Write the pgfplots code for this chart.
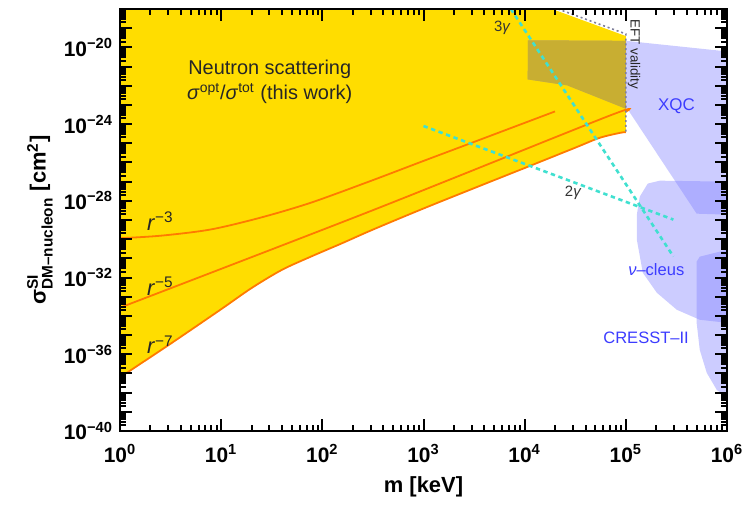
\documentclass[border=0pt]{standalone}
\usepackage{fontspec}
\setmainfont{Liberation Sans}
\usepackage{amsmath}
\usepackage{pgfplots}
\pgfplotsset{compat=1.18}
\usepgfplotslibrary{fillbetween}
\definecolor{nsyellow}{HTML}{FFDD00}
\definecolor{nsolive}{HTML}{C8AE32}
\definecolor{nsorange}{HTML}{FF7A00}
\definecolor{nscyan}{HTML}{40E0D0}
\definecolor{nsblue}{HTML}{8080FF}
\definecolor{nstext}{HTML}{3C3CFF}
\definecolor{nsgray}{HTML}{7F7F9A}
\newcommand{\dec}[1]{10\textsuperscript{#1}}
\pgfplotsset{
  orangeline/.style={draw=nsorange, line width=0.9bp, smooth, tension=0.5},
  gammaline/.style={draw=nscyan, line width=1.3bp, dash pattern=on 2.2bp off 1.8bp},
  expfill/.style={fill=nsblue, fill opacity=0.4, draw=none}
}

\begin{document}
\begin{tikzpicture}
\begin{axis}[
  set layers=axis on top,
  scale only axis, width=303.5bp, height=211bp,
  xmode=log, ymode=log,
  xmin=1, xmax=1e6, ymin=1e-40, ymax=1e-18,
  xtick={1,10,100,1000,1e4,1e5,1e6},
  xticklabels={\dec{0},\dec{1},\dec{2},\dec{3},\dec{4},\dec{5},\dec{6}},
  minor xtick={2,3,4,5,6,7,8,9,20,30,40,50,60,70,80,90,200,300,400,500,600,700,800,900,
    2e3,3e3,4e3,5e3,6e3,7e3,8e3,9e3,2e4,3e4,4e4,5e4,6e4,7e4,8e4,9e4,2e5,3e5,4e5,5e5,6e5,7e5,8e5,9e5},
  ytick={1e-40,1e-39,1e-38,1e-37,1e-36,1e-35,1e-34,1e-33,1e-32,1e-31,1e-30,1e-29,1e-28,1e-27,1e-26,1e-25,1e-24,1e-23,1e-22,1e-21,1e-20,1e-19,1e-18},
  yticklabels={\dec{−40},,,,\dec{−36},,,,\dec{−32},,,,\dec{−28},,,,\dec{−24},,,,\dec{−20},,},
  minor y tick num=3,
  xtick pos=both, ytick pos=both, tick align=inside,
  ticklabel style={font=\fontsize{10.5}{12}\selectfont\bfseries},
  xticklabel style={yshift=-3bp},
  axis line style={line width=0.9bp},
  major tick length=6bp, minor tick length=3bp,
  tick style={black, line width=1bp},
  xlabel={m [keV]},
  ylabel={$\text{σ}^{\text{SI}}_{\text{DM–nucleon}}$ [cm\textsuperscript{2}]},
  label style={font=\fontsize{11}{13}\selectfont\bfseries},
  xlabel style={at={(axis description cs:0.5,-0.133)}, anchor=center},
  ylabel style={at={(axis description cs:-0.132,0.5)}, anchor=center}
]
% upper edge of the neutron region (top of plot, then EFT limit)
\addplot[draw=none, name path=nstop] coordinates {
  (1,1e-18) (18620,1e-18) (1e5,3.89e-20)
};
% r^-7: lower edge of the neutron region
\addplot[orangeline, name path=nslow] coordinates {
  (1,6.31e-38) (3.162,3.55e-36) (10,2.24e-34) (19.95,2.82e-33)
  (39.81,2.51e-32) (79.43,1.32e-31) (158.5,6.31e-31) (316.2,3.16e-30)
  (1000,3.98e-29) (3162,4.57e-28) (1e4,5.13e-27) (31623,5.89e-26)
  (54950,1.91e-25) (87100,3.47e-25) (1e5,3.80e-25)
};
\addplot[fill=nsyellow, draw=none] fill between[of=nstop and nslow];
% XQC
\addplot[expfill] coordinates {
  (10765,2.344e-20) (1e5,2.19e-20) (9.12e5,6.457e-21) (1e6,5.5e-21)
  (1e6,1.905e-29) (5.012e5,2.138e-29) (1.047e5,5.754e-24)
  (26303,1.047e-22) (10715,2.138e-22)
} -- cycle;
% nu-cleus
\addplot[expfill] coordinates {
  (1e6,1.0e-27) (2.168e5,1.122e-27) (1.648e5,7.94e-28) (1.374e5,1.66e-28)
  (1.285e5,1.905e-29) (1.285e5,9.33e-31) (1.472e5,1.778e-32)
  (2.023e5,1.622e-33) (3.19e5,2.089e-34) (5.38e5,6.31e-35) (1e6,4.365e-35)
} -- cycle;
% CRESST-II
\addplot[expfill] coordinates {
  (1e6,2.818e-31) (8.49e5,2.239e-31) (5.38e5,1.23e-31) (5.01e5,6.76e-32)
  (5.01e5,4.365e-35) (5.38e5,1.698e-36) (6.31e5,1.072e-37)
  (7.93e5,1.38e-38) (1e6,6.03e-39)
} -- cycle;
% overlap of XQC with the neutron region
\addplot[fill=nsolive, draw=none] coordinates {
  (10765,2.344e-20) (1e5,2.19e-20) (1e5,6.31e-24)
  (26303,1.047e-22) (10715,2.138e-22)
} -- cycle;
% r^-3
\addplot[orangeline] coordinates {
  (1,1.122e-30) (2.512,1.514e-30) (7.762,3.162e-30) (23.99,1.288e-29)
  (75.86,7.762e-29) (295.1,1.047e-27) (1000,1.202e-26) (3162,1.175e-25)
  (19953,4.571e-24)
};
% r^-5
\addplot[orangeline] coordinates {
  (1,2.69e-34) (295.1,2.818e-29) (64565,2.399e-24) (1e5,4.467e-24)
};
% EFT validity edge
\addplot[draw=nsgray, line width=0.8bp, dash pattern=on 1bp off 1.4bp] coordinates {
  (21380,1e-18) (1e5,5.01e-20) (1e5,3.80e-25)
};
% 2 gamma and 3 gamma
\addplot[gammaline] coordinates {(1000,7.94e-25) (2.951e5,1.047e-29)};
\addplot[gammaline] coordinates {(7300,1e-18) (2.951e5,1.259e-31)};

\node[align=center, font=\fontsize{10}{12.5}\selectfont, text=black!85] at (axis cs:30.2,1.585e-22)
  {Neutron scattering\\\textit{σ}\textsuperscript{opt}/\textit{σ}\textsuperscript{tot} (this work)};
\node[font=\fontsize{11}{13}\selectfont, text=black!85] at (axis cs:2.51,8.51e-30) {\textit{r}\textsuperscript{−3}};
\node[font=\fontsize{11}{13}\selectfont, text=black!85] at (axis cs:2.51,3.47e-33) {\textit{r}\textsuperscript{−5}};
\node[font=\fontsize{11}{13}\selectfont, text=black!85] at (axis cs:2.51,3.16e-36) {\textit{r}\textsuperscript{−7}};
\node[font=\fontsize{7.5}{9}\selectfont, text=black!80] at (axis cs:6026,1.096e-19) {3\textit{γ}};
\node[font=\fontsize{7.5}{9}\selectfont, text=black!80] at (axis cs:30200,2.69e-28) {2\textit{γ}};
\node[font=\fontsize{6.7}{8}\selectfont, text=black!85, rotate=-90, anchor=south west, inner sep=0.8bp]
  at (axis cs:1e5,3.55e-19) {EFT validity};
\node[font=\fontsize{8.5}{10}\selectfont, text=nstext] at (axis cs:3.16e5,8.71e-24) {XQC};
\node[font=\fontsize{8.3}{10}\selectfont, text=nstext] at (axis cs:2.0e5,2.57e-32) {\textit{ν}–cleus};
\node[font=\fontsize{8.3}{10}\selectfont, text=nstext] at (axis cs:1.585e5,6.92e-36) {CRESST–II};
\end{axis}
\pgfresetboundingbox
\path (current axis.south west) ++(-60bp,-38bp) coordinate (bbl);
\path (current axis.north east) ++(7.5bp,4.5bp) coordinate (btr);
\useasboundingbox (bbl) rectangle (btr);
\end{tikzpicture}
\end{document}
